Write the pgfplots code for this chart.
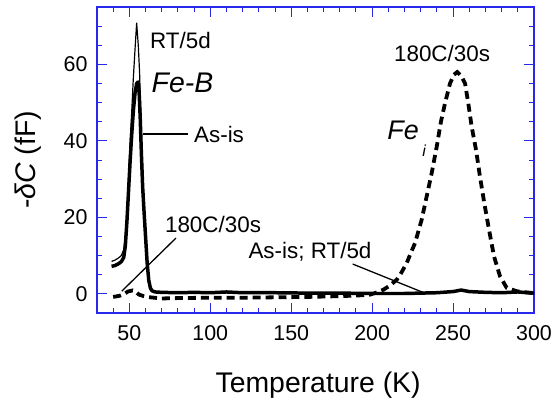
\documentclass[border=0pt]{standalone}
\usepackage{pgfplots}
\pgfplotsset{compat=1.18}
\usepackage{fontspec}
\setmainfont{Liberation Sans}
\definecolor{frameblue}{RGB}{40,40,235}

\begin{document}
\begin{tikzpicture}
\begin{axis}[
    scale only axis,
    width=437bp,
    height=306bp,
    xmin=30, xmax=300,
    ymin=-5, ymax=75,
    xtick={50,100,...,300},
    ytick={0,20,40,60},
    tick align=inside,
    major tick length=10pt,
    axis line style={frameblue, line width=1.3pt},
    tick style={frameblue, line width=1.1pt},
    unbounded coords=jump,
    /pgf/number format/assume math mode=true,
    ticklabel style={font=\fontsize{21.5}{24}\selectfont},
    xticklabel style={yshift=-9pt},
    yticklabel style={xshift=-6pt},
    xlabel={Temperature (K)},
    ylabel={-\textit{δC} (fF)},
    label style={font=\fontsize{28.5}{32}\selectfont},
    xlabel style={at={(axis description cs:0.506,-0.261)}, anchor=base},
    ylabel style={at={(axis description cs:-0.158,0.5)}, anchor=center, rotate=0},
    clip=false,
]
% tick marks, bottom and top (major)
\addplot [frameblue, line width=1.1pt, forget plot] coordinates {
(50,-5) (50,-2.4) (50,nan) (50,75) (50,72.4) (50,nan)
(100,-5) (100,-2.4) (100,nan) (100,75) (100,72.4) (100,nan)
(150,-5) (150,-2.4) (150,nan) (150,75) (150,72.4) (150,nan)
(200,-5) (200,-2.4) (200,nan) (200,75) (200,72.4) (200,nan)
(250,-5) (250,-2.4) (250,nan) (250,75) (250,72.4)
};
% tick marks, bottom and top (minor)
\addplot [frameblue, line width=1pt, forget plot] coordinates {
(40,-5) (40,-3.7) (40,nan) (40,75) (40,73.7) (40,nan)
(60,-5) (60,-3.7) (60,nan) (60,75) (60,73.7) (60,nan)
(70,-5) (70,-3.7) (70,nan) (70,75) (70,73.7) (70,nan)
(80,-5) (80,-3.7) (80,nan) (80,75) (80,73.7) (80,nan)
(90,-5) (90,-3.7) (90,nan) (90,75) (90,73.7) (90,nan)
(110,-5) (110,-3.7) (110,nan) (110,75) (110,73.7) (110,nan)
(120,-5) (120,-3.7) (120,nan) (120,75) (120,73.7) (120,nan)
(130,-5) (130,-3.7) (130,nan) (130,75) (130,73.7) (130,nan)
(140,-5) (140,-3.7) (140,nan) (140,75) (140,73.7) (140,nan)
(160,-5) (160,-3.7) (160,nan) (160,75) (160,73.7) (160,nan)
(170,-5) (170,-3.7) (170,nan) (170,75) (170,73.7) (170,nan)
(180,-5) (180,-3.7) (180,nan) (180,75) (180,73.7) (180,nan)
(190,-5) (190,-3.7) (190,nan) (190,75) (190,73.7) (190,nan)
(210,-5) (210,-3.7) (210,nan) (210,75) (210,73.7) (210,nan)
(220,-5) (220,-3.7) (220,nan) (220,75) (220,73.7) (220,nan)
(230,-5) (230,-3.7) (230,nan) (230,75) (230,73.7) (230,nan)
(240,-5) (240,-3.7) (240,nan) (240,75) (240,73.7) (240,nan)
(260,-5) (260,-3.7) (260,nan) (260,75) (260,73.7) (260,nan)
(270,-5) (270,-3.7) (270,nan) (270,75) (270,73.7) (270,nan)
(280,-5) (280,-3.7) (280,nan) (280,75) (280,73.7) (280,nan)
(290,-5) (290,-3.7) (290,nan) (290,75) (290,73.7)
};
% tick marks, left and right (major)
\addplot [frameblue, line width=1.1pt, forget plot] coordinates {
(30,0) (36.2,0) (nan,0) (300,0) (293.8,0) (nan,0)
(30,20) (36.2,20) (nan,20) (300,20) (293.8,20) (nan,20)
(30,40) (36.2,40) (nan,40) (300,40) (293.8,40) (nan,40)
(30,60) (36.2,60) (nan,60) (300,60) (293.8,60)
};
% tick marks, left and right (minor)
\addplot [frameblue, line width=1pt, forget plot] coordinates {
(30,5) (33.1,5) (nan,5) (300,5) (296.9,5) (nan,5)
(30,10) (33.1,10) (nan,10) (300,10) (296.9,10) (nan,10)
(30,15) (33.1,15) (nan,15) (300,15) (296.9,15) (nan,15)
(30,25) (33.1,25) (nan,25) (300,25) (296.9,25) (nan,25)
(30,30) (33.1,30) (nan,30) (300,30) (296.9,30) (nan,30)
(30,35) (33.1,35) (nan,35) (300,35) (296.9,35) (nan,35)
(30,45) (33.1,45) (nan,45) (300,45) (296.9,45) (nan,45)
(30,50) (33.1,50) (nan,50) (300,50) (296.9,50) (nan,50)
(30,55) (33.1,55) (nan,55) (300,55) (296.9,55) (nan,55)
(30,65) (33.1,65) (nan,65) (300,65) (296.9,65) (nan,65)
(30,70) (33.1,70) (nan,70) (300,70) (296.9,70)
};
% As-is (thick solid)
\addplot [black, line width=3.5pt, line join=round] coordinates {
(39,7.2) (41,7.4) (43,7.8) (45,8.4) (46.5,9.5) (47.5,12.5) (48.5,19)
(49.5,27) (50.5,35) (51.5,42) (52.5,48) (53.5,52.5) (54.5,55) (55.3,55.4)
(56,53) (56.7,46) (57.4,37) (58.2,28) (59,22) (60,15) (61,8) (62,3.5)
(63,1.5) (64,0.8) (66,0.5) (70,0.4) (80,0.3) (90,0.4) (100,0.3) (110,0.5)
(120,0.3) (140,0.3) (160,0.2) (180,0.2) (200,0.1) (220,0.1) (240,0.3)
(250,0.6) (255,1.0) (260,0.6) (270,0.4) (280,0.3) (290,0.5) (300,0.2)
};
% RT/5d (thin solid)
\addplot [black, line width=1.2pt, line join=round] coordinates {
(39,8.5) (41,8.8) (43,9.3) (45,10) (46.5,11.5) (47.5,15) (48.5,21)
(49.5,30) (50.5,40) (51.5,48) (52.4,56) (53.5,64) (54.5,70.8) (55.5,65)
(56.3,58) (57,48) (57.7,38) (58.4,30) (59,23) (60,16) (61,9) (62,4)
(63,1.8) (64,0.9) (66,0.5) (70,0.3) (80,0.4) (100,0.2) (120,0.4) (150,0.2)
(180,0.3) (210,0.1) (240,0.2) (255,0.8) (265,0.4) (280,0.2) (292,0.6) (300,0.2)
};
% 180C/30s (dashed)
\addplot [black, line width=3.8pt, dash pattern=on 8pt off 5pt] coordinates {
(40,-0.8) (44,-0.5) (47,0) (49,0.6) (52,0.9) (54,0.5) (56,-0.2) (59,-0.6)
(63,-0.9) (70,-1.2) (80,-1.1) (100,-1.0) (120,-1.0) (140,-0.9) (160,-0.8)
(180,-0.6) (192,-0.4) (198.7,-0.2) (203,0.4) (207,1.1) (211,2.2) (215.2,3.7)
(218,5.5) (221.4,8.1) (224,10.8) (226.5,13.3) (230.6,19.4) (233.7,25.5)
(236.8,31.6) (239.9,38.5) (242.5,45) (245,49.8) (248.1,55) (250.5,57.3)
(252.6,58) (255,57) (257.4,55) (259.4,49.8) (261.5,43.7) (264.2,37.6)
(266.6,30.7) (269.3,23.7) (272.2,16.8) (275.3,9.8) (279,4.6) (283.1,1.6)
(289.3,0.7) (295,0.4) (300,0.2)
};
% annotations
\begin{scope}[font=\fontsize{22.5}{25}\selectfont]
\node at (axis cs:81.6,66.3) {RT/5d};
\node at (axis cs:82.8,55.1) {\fontsize{28.5}{32}\selectfont\textit{Fe-B}};
\node[anchor=west, inner sep=0pt] at (axis cs:89.9,41.8) {As-is};
\draw[black, line width=1.3pt] (axis cs:58.6,41.8) -- (axis cs:86,41.8);
\node at (axis cs:101.7,18.1) {180C/30s};
\draw[black, line width=1.3pt] (axis cs:45.3,0.7) -- (axis cs:78.8,14.6);
\node at (axis cs:243.2,62.9) {180C/30s};
\node at (axis cs:219.1,42.8) {\fontsize{27}{30}\selectfont\textit{Fe}};
\node at (axis cs:232.3,37.4) {\fontsize{16}{18}\selectfont\textit{i}};
\node at (axis cs:161.6,11.0) {As-is; RT/5d};
\draw[black, line width=1.3pt] (axis cs:188,7.8) -- (axis cs:233.7,0);
\end{scope}
\coordinate (sw) at (rel axis cs:0,0);
\end{axis}
\pgfresetboundingbox
\path[use as bounding box] (sw) ++(-97bp,-90bp) rectangle ++(553bp,403bp);
\end{tikzpicture}
\end{document}
